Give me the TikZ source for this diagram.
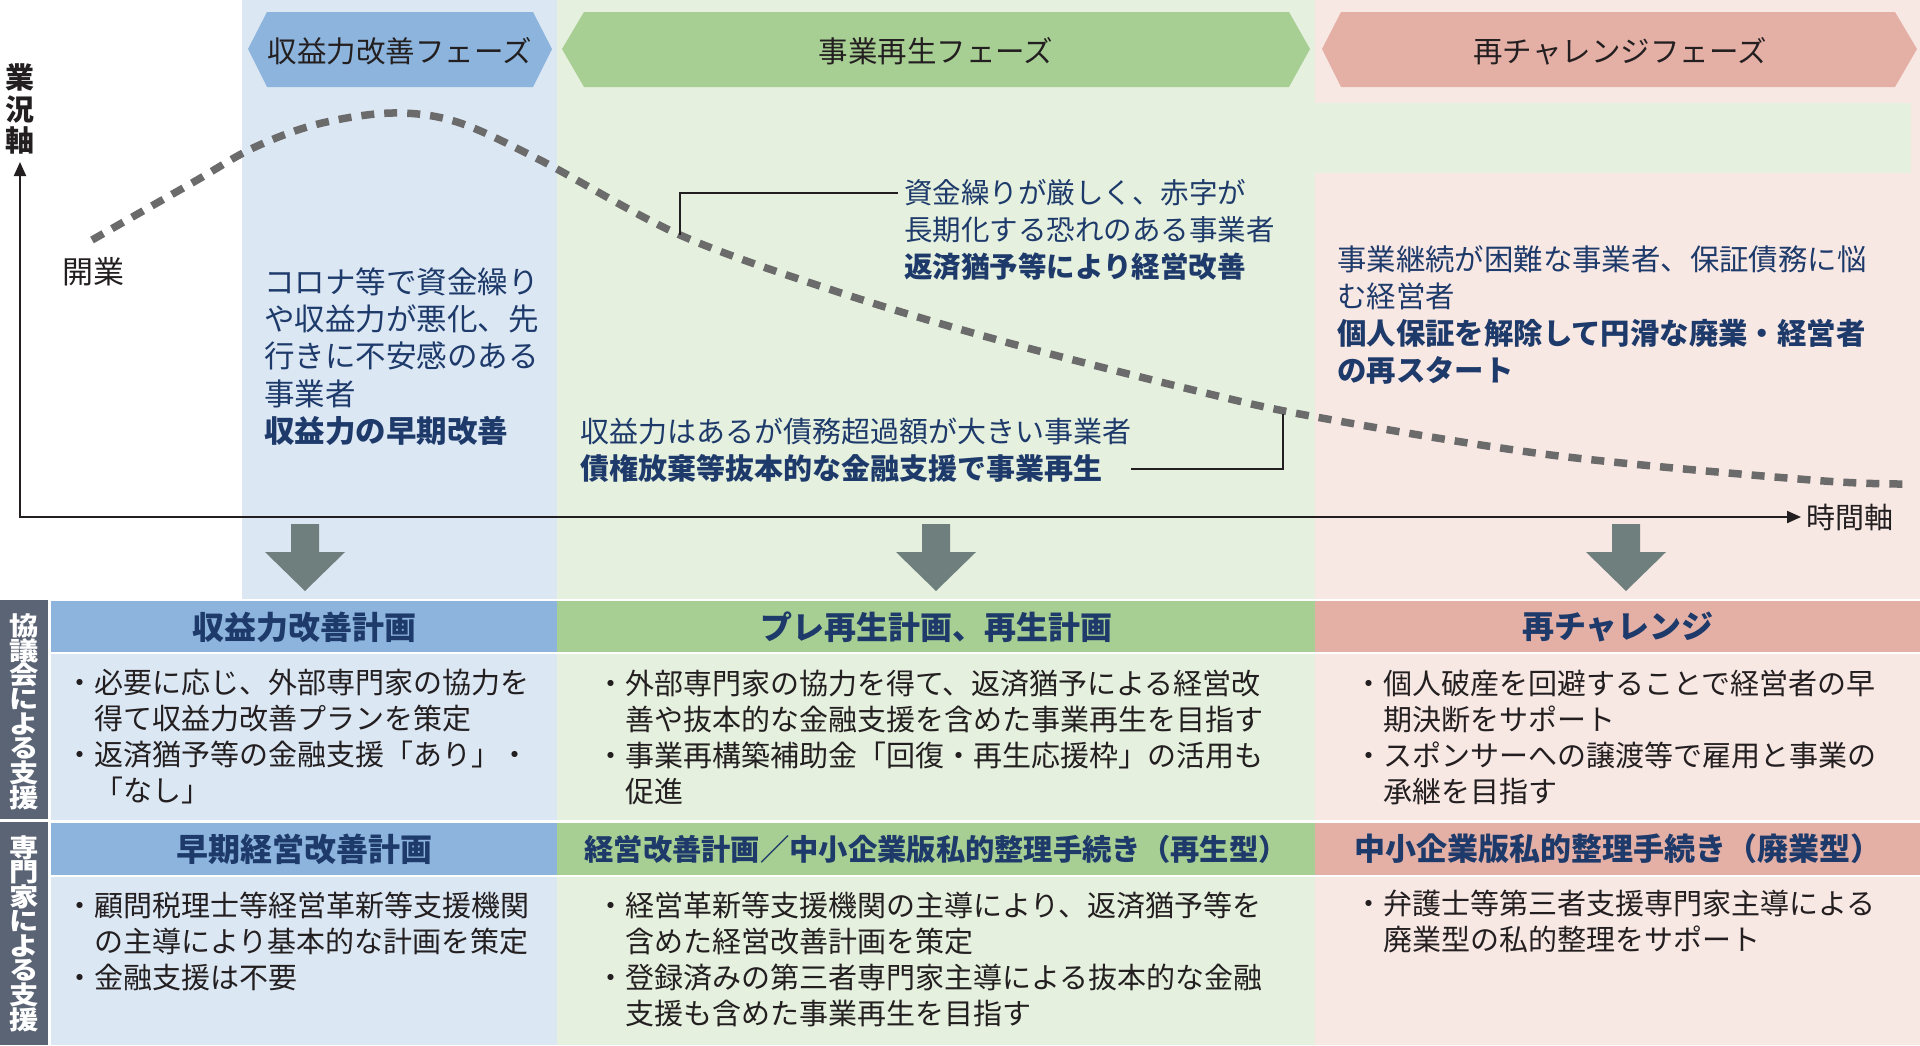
\documentclass[tikz,border=0pt]{standalone}
\usepackage{fontspec}
\setmainfont{Noto Sans CJK JP}
\usepackage{xcolor}
\usepackage{graphicx}
\usetikzlibrary{arrows.meta,calc}

\definecolor{bluebg}{HTML}{DCE7F4}
\definecolor{bluehd}{HTML}{8CB4DC}
\definecolor{greenbg}{HTML}{E5F0DE}
\definecolor{greenhd}{HTML}{A7CE93}
\definecolor{pinkbg}{HTML}{F8E8E4}
\definecolor{pinkhd}{HTML}{E4B0A6}
\definecolor{sidegray}{HTML}{5B6475}
\definecolor{arrowgray}{HTML}{6E7F7E}
\definecolor{curvegray}{HTML}{6B6B6B}
\definecolor{navy}{HTML}{1D3A6A}
\definecolor{ink}{HTML}{231F20}

\newcommand{\itemdot}{\llap{・}}

\begin{document}
\begin{tikzpicture}[x=1pt, y=-1pt,
    phase/.style={inner sep=0, text=ink, font=\fontsize{29.5}{30}\selectfont},
    note/.style={anchor=west, align=left, inner sep=0, text=navy},
    plan/.style={inner sep=0, text=navy, font=\bfseries\fontsize{32}{34}\selectfont},
    item/.style={anchor=west, align=left, inner sep=0, text=ink, font=\fontsize{29}{36}\selectfont},
    side/.style={inner sep=0, text=white, font=\bfseries\fontsize{25.5}{26}\selectfont},
    curve/.style={curvegray, line width=7.5pt, dash pattern=on 13pt off 10pt},
    leader/.style={ink, line width=2pt},
    axis/.style={ink, line width=2.2pt, {Triangle[length=14pt,width=12pt]}-{Triangle[length=14pt,width=12pt]}}
]
\useasboundingbox (0,0) rectangle (1920,1045);

% Column backgrounds
\fill[bluebg] (242,0) rectangle (557,599);
\fill[greenbg] (557,0) rectangle (1315,599);
\fill[pinkbg] (1315,0) rectangle (1920,599);
\fill[greenbg] (1315,103) rectangle (1911,173);

% Phase headers
\fill[bluehd] (248,49) -- (267,12) -- (533,12) -- (552,49) -- (533,87) -- (267,87) -- cycle;
\fill[greenhd] (562,49) -- (584,12) -- (1289,12) -- (1310,49) -- (1289,87) -- (584,87) -- cycle;
\fill[pinkhd] (1322,49) -- (1341,12) -- (1895,12) -- (1917,49) -- (1895,87) -- (1341,87) -- cycle;
\node[phase] (phaseA) at (400,51) {収益力改善フェーズ};
\node[phase] (phaseB) at (936,51) {事業再生フェーズ};
\node[phase] (phaseC) at (1620,51) {再チャレンジフェーズ};

% Axes
\coordinate (origin) at (20,517);
\coordinate (ytip) at (20,162);
\coordinate (xtip) at (1801,517);
\draw[axis] (ytip) -- (origin) -- (xtip);
\node[align=center, inner sep=0, text=ink, font=\bfseries\fontsize{29}{31.5}\selectfont] (vlabel) at (20,109) {業\\況\\軸};
\node[anchor=west, inner sep=0, text=ink, font=\fontsize{29}{30}\selectfont] (tlabel) at (1806,517) {時間軸};
\node[inner sep=0, text=ink, font=\fontsize{31}{32}\selectfont] (start) at (93,272) {開業};

% Business curve
\draw[curve] plot[smooth, tension=0.55] coordinates {(92,240) (192,183) (253,148) (318,124) (392,113) (457,122) (540,160) (680,235) (838,292) (998,340) (1193,390) (1316,417) (1551,455) (1811,480) (1905,484)};
\coordinate (c1) at (680,235);
\coordinate (c2) at (1283,414);

% Notes on the curve
\node[note, font=\fontsize{30.5}{37.2}\selectfont] (noteA) at (264,356.5) {コロナ等で資金繰り\\や収益力が悪化、先\\行きに不安感のある\\事業者\\{\bfseries 収益力の早期改善}};
\node[note, font=\fontsize{28.5}{37}\selectfont] (noteB) at (904,230) {資金繰りが厳しく、赤字が\\長期化する恐れのある事業者\\{\bfseries 返済猶予等により経営改善}};
\node[note, font=\fontsize{29}{37}\selectfont] (noteC) at (580,450.5) {収益力はあるが債務超過額が大きい事業者\\{\bfseries 債権放棄等抜本的な金融支援で事業再生}};
\node[note, font=\fontsize{29.4}{36.7}\selectfont] (noteD) at (1337,315) {事業継続が困難な事業者、保証債務に悩\\む経営者\\{\bfseries 個人保証を解除して円滑な廃業・経営者}\\{\bfseries の再スタート}};
\draw[leader] (c1) |- ($(noteB.north west)+(-6,14)$);
\draw[leader] (c2) |- ($(noteC.south east)+(0,-14)$);

% Down arrows
\foreach \cx in {305,936,1626} {
  \fill[arrowgray] (\cx-14,524) -- (\cx+14,524) -- (\cx+14,552) -- (\cx+40,552) -- (\cx,591) -- (\cx-40,552) -- (\cx-14,552) -- cycle;
}

% Support plans
\fill[white] (0,599) rectangle (1920,1045);
\fill[sidegray] (0,600) rectangle (48,819);
\fill[sidegray] (0,822) rectangle (48,1045);
\fill[bluehd] (51,601) rectangle (557,652);
\fill[greenhd] (557,601) rectangle (1315,652);
\fill[pinkhd] (1315,601) rectangle (1920,652);
\fill[bluebg] (51,654) rectangle (557,820);
\fill[greenbg] (557,654) rectangle (1315,820);
\fill[pinkbg] (1315,654) rectangle (1920,820);
\fill[bluehd] (51,823) rectangle (557,875);
\fill[greenhd] (557,823) rectangle (1315,875);
\fill[pinkhd] (1315,823) rectangle (1920,875);
\fill[bluebg] (51,877) rectangle (557,1045);
\fill[greenbg] (557,877) rectangle (1315,1045);
\fill[pinkbg] (1315,877) rectangle (1920,1045);

\foreach \ch [count=\i] in {協,議,会,に,よ,る,支,援}
  \node[side] (sideA\i) at (24,626+24.5*\i-24.5) {\scalebox{1.15}[1]{\ch}};
\foreach \ch [count=\i] in {専,門,家,に,よ,る,支,援}
  \node[side] (sideB\i) at (24,848+24.5*\i-24.5) {\scalebox{1.15}[1]{\ch}};

\node[plan] (planA) at (304,627) {収益力改善計画};
\node[plan] (planB) at (936,627) {プレ再生計画、再生計画};
\node[plan] (planC) at (1618,627) {再チャレンジ};
\node[plan] (planD) at (304,849) {早期経営改善計画};
\node[plan, font=\bfseries\fontsize{29.3}{30}\selectfont] (planE) at (936,849) {経営改善計画／中小企業版私的整理手続き（再生型）};
\node[plan, font=\bfseries\fontsize{31}{32}\selectfont] (planF) at (1618,849) {中小企業版私的整理手続き（廃業型）};

\node[item] (listA) at (94,736.5) {\itemdot 必要に応じ、外部専門家の協力を\\得て収益力改善プランを策定\\\itemdot 返済猶予等の金融支援「あり」・\\「なし」};
\node[item] (listB) at (625,737) {\itemdot 外部専門家の協力を得て、返済猶予による経営改\\善や抜本的な金融支援を含めた事業再生を目指す\\\itemdot 事業再構築補助金「回復・再生応援枠」の活用も\\促進};
\node[item] (listC) at (1383,737) {\itemdot 個人破産を回避することで経営者の早\\期決断をサポート\\\itemdot スポンサーへの譲渡等で雇用と事業の\\承継を目指す};
\node[item] (listD) at (94,941) {\itemdot 顧問税理士等経営革新等支援機関\\の主導により基本的な計画を策定\\\itemdot 金融支援は不要};
\node[item] (listE) at (625,959) {\itemdot 経営革新等支援機関の主導により、返済猶予等を\\含めた経営改善計画を策定\\\itemdot 登録済みの第三者専門家主導による抜本的な金融\\支援も含めた事業再生を目指す};
\node[item] (listF) at (1383,921.5) {\itemdot 弁護士等第三者支援専門家主導による\\廃業型の私的整理をサポート};
\end{tikzpicture}
\end{document}
